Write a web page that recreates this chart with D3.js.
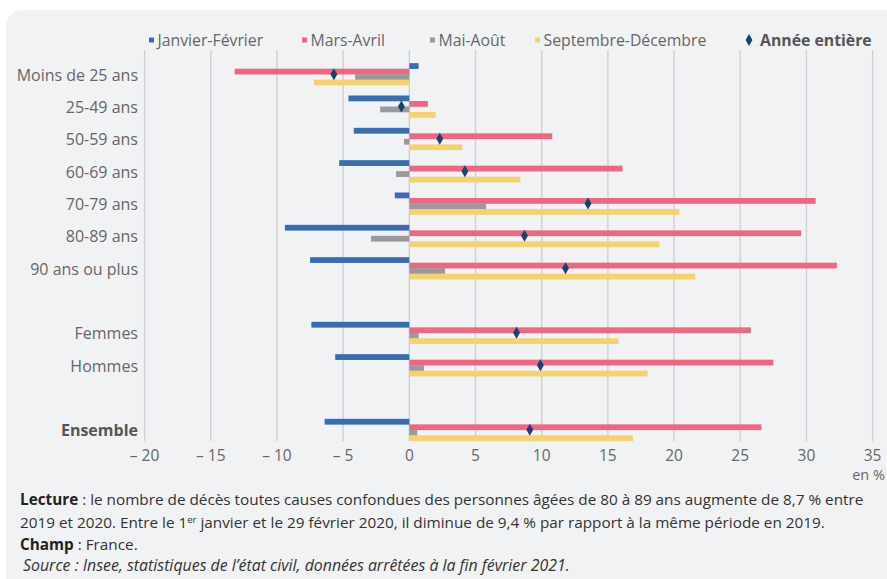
<!DOCTYPE html>
<html>
<head>
<meta charset="utf-8">
<script src="https://cdn.jsdelivr.net/npm/d3@7"></script>
<style>
  body { margin: 0; background: #fff; }
  svg { display: block; font-family: "Open Sans", sans-serif; }
</style>
</head>
<body>
<svg width="887" height="579"></svg>
<script>
// categories (blank rows are spacers)
var categories = ["Moins de 25 ans", "25-49 ans", "50-59 ans", "60-69 ans", "70-79 ans", "80-89 ans", "90 ans ou plus", "", "Femmes", "Hommes", " ", "Ensemble"];
var seriesNames = ["Janvier-Février", "Mars-Avril", "Mai-Août", "Septembre-Décembre"];
var seriesColors = ["#3a6cb4", "#ef6680", "#9a9a9c", "#f5d26f"];

var janFev = [0.7, -4.6, -4.2, -5.3, -1.1, -9.4, -7.5, null, -7.4, -5.6, null, -6.4];
var marsAvr = [-13.2, 1.4, 10.8, 16.1, 30.7, 29.6, 32.3, null, 25.8, 27.5, null, 26.6];
var maiAout = [-4.1, -2.2, -0.4, -1.0, 5.8, -2.9, 2.7, null, 0.7, 1.1, null, 0.6];
var septDec = [-7.2, 2.0, 4.0, 8.4, 20.4, 18.9, 21.6, null, 15.8, 18.0, null, 16.9];
var annee = [-5.7, -0.6, 2.3, 4.2, 13.5, 8.7, 11.8, null, 8.1, 9.9, null, 9.1];

var ticks = [-20, -15, -10, -5, 0, 5, 10, 15, 20, 25, 30, 35];
var tickLabels = ["– 20", "– 15", "– 10", "– 5", "0", "5", "10", "15", "20", "25", "30", "35"];

var series = [janFev, marsAvr, maiAout, septDec];

var svg = d3.select("svg");

// panel
svg.append("rect").attr("x", 6).attr("y", 10).attr("width", 900).attr("height", 600)
  .attr("rx", 16).attr("fill", "#f1f2f4");

var x = d3.scaleLinear().domain([-20, 35]).range([144.6, 872.6]);
var y = d3.scaleBand().domain(categories).range([58, 446]);
var sub = d3.scaleBand().domain(d3.range(4)).range([y.bandwidth() / 2 - 11, y.bandwidth() / 2 + 11]);

// grid
svg.append("g").selectAll("line").data(ticks).enter().append("line")
  .attr("x1", function(d) { return x(d); })
  .attr("x2", function(d) { return x(d); })
  .attr("y1", 50).attr("y2", 441)
  .attr("stroke", "#cfd0d3").attr("stroke-width", 1.4);

// bars
series.forEach(function(vals, s) {
  var rows = vals.map(function(v, i) { return {v: v, c: categories[i]}; })
    .filter(function(d) { return d.v !== null; });
  svg.append("g").selectAll("rect").data(rows).enter()
    .append("rect")
    .attr("x", function(d) { return x(Math.min(0, d.v)); })
    .attr("width", function(d) { return Math.abs(x(d.v) - x(0)); })
    .attr("y", function(d) { return y(d.c) + sub(s); })
    .attr("height", sub.bandwidth() + 0.3)
    .attr("fill", seriesColors[s]);
});

// diamonds
var diamond = d3.symbol().type(d3.symbolDiamond).size(42);
svg.append("g").selectAll("path")
  .data(annee.map(function(v, i) { return {v: v, c: categories[i]}; }).filter(function(d) { return d.v !== null; }))
  .enter().append("path")
  .attr("d", diamond)
  .attr("transform", function(d) { return "translate(" + x(d.v) + "," + (y(d.c) + y.bandwidth() / 2) + ")"; })
  .attr("fill", "#1b426f");

// category labels
svg.append("g").selectAll("text").data(categories).enter().append("text")
  .attr("x", 138)
  .attr("y", function(d) { return y(d) + y.bandwidth() / 2 + 6.5; })
  .attr("text-anchor", "end")
  .attr("font-size", 16)
  .attr("font-weight", function(d) { return d === "Ensemble" ? "bold" : "normal"; })
  .attr("fill", function(d) { return d === "Ensemble" ? "#555" : "#666"; })
  .text(function(d) { return d.trim(); });

// x axis labels
svg.append("g").selectAll("text").data(ticks).enter().append("text")
  .attr("x", function(d) { return x(d); })
  .attr("y", 461)
  .attr("text-anchor", "middle")
  .attr("font-size", 15.5)
  .attr("fill", "#666")
  .text(function(d, i) { return tickLabels[i]; });

svg.append("text").attr("x", 885).attr("y", 479.5).attr("text-anchor", "end")
  .attr("font-size", 14.5).attr("fill", "#666").text("en %");

// legend
var legX = [149, 302, 430, 535];
seriesNames.forEach(function(n, i) {
  svg.append("rect").attr("x", legX[i]).attr("y", 37.5).attr("width", 5).attr("height", 5).attr("fill", seriesColors[i]);
  svg.append("text").attr("x", legX[i] + 8.5).attr("y", 45.5).attr("font-size", 15.8).attr("fill", "#666").text(n);
});
svg.append("path").attr("d", d3.symbol().type(d3.symbolDiamond).size(42))
  .attr("transform", "translate(749,40)").attr("fill", "#1b426f");
svg.append("text").attr("x", 760).attr("y", 45.5).attr("font-size", 15.8).attr("font-weight", "bold")
  .attr("fill", "#555").text("Année entière");

// footer
var foot = svg.append("g").attr("font-size", 15.3).attr("fill", "#333");
var t1 = foot.append("text").attr("x", 20).attr("y", 505);
t1.append("tspan").attr("font-weight", "bold").attr("fill", "#222").text("Lecture");
t1.append("tspan").text(" : le nombre de décès toutes causes confondues des personnes âgées de 80 à 89 ans augmente de 8,7 % entre");
var t2 = foot.append("text").attr("x", 20).attr("y", 528);
t2.append("tspan").text("2019 et 2020. Entre le 1");
t2.append("tspan").attr("font-size", 9.5).attr("dy", -5).text("er");
t2.append("tspan").attr("dy", 5).text(" janvier et le 29 février 2020, il diminue de 9,4 % par rapport à la même période en 2019.");
var t3 = foot.append("text").attr("x", 20).attr("y", 550);
t3.append("tspan").attr("font-weight", "bold").attr("fill", "#222").text("Champ");
t3.append("tspan").text(" : France.");
foot.append("text").attr("x", 23).attr("y", 571).attr("font-style", "italic").attr("font-size", 15.9)
  .text("Source : Insee, statistiques de l’état civil, données arrêtées à la fin février 2021.");
</script>
</body>
</html>
